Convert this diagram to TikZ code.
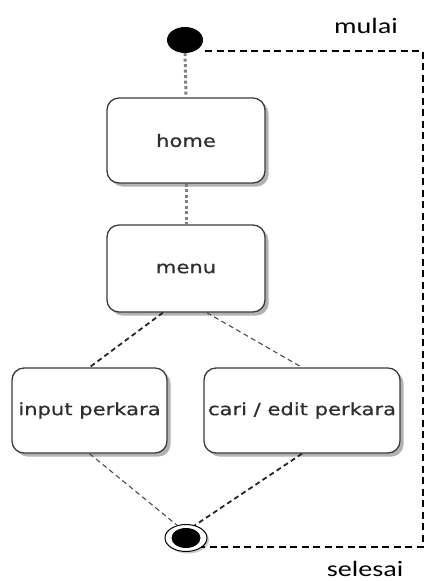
\documentclass[tikz,border=0pt]{standalone}
\usepackage{graphicx}
\usepackage{fontspec}
\newfontfamily\boxfont[FakeBold=0.6]{DejaVu Sans}
\newfontfamily\lblfont{Carlito}
\usetikzlibrary{shapes.geometric,shadows,calc}
\newcommand{\bxt}[1]{\scalebox{1.24}[1]{#1}}
\newcommand{\lbt}[1]{\scalebox{1.28}[1]{#1}}
\definecolor{boxline}{HTML}{3C3C3C}
\definecolor{txtgray}{HTML}{2E2E2E}
\tikzset{
  statebox/.style={draw=boxline, line width=1.3pt, rounded corners=12pt, fill=white,
    drop shadow={shadow xshift=3.5pt, shadow yshift=-3.5pt, opacity=0.3, fill=black},
    font=\boxfont\fontsize{17}{20}\selectfont, text=txtgray, inner sep=0pt},
  dotconn/.style={draw=gray, line width=3pt, dash pattern=on 3pt off 2.5pt},
  darkdash/.style={draw=black!85, line width=1.8pt, dash pattern=on 5pt off 3.5pt},
  lightdash/.style={draw=black!70, line width=1.1pt, dash pattern=on 5pt off 3.5pt},
  frame/.style={draw=black, line width=1.3pt, dash pattern=on 7pt off 4.5pt},
  lbl/.style={font=\lblfont\fontsize{22}{26}\selectfont, text=black, inner sep=0pt, anchor=base}
}
\begin{document}
\begin{tikzpicture}[x=1pt,y=-1pt]
\useasboundingbox[fill=white] (0,0) rectangle (424,581);

% start and end
\node[ellipse, fill=black, minimum width=36pt, minimum height=26pt, inner sep=0pt] (start) at (185,40) {};
\node[ellipse, draw=black, line width=1pt, fill=white, minimum width=42pt, minimum height=27pt, inner sep=0pt,
      drop shadow={shadow xshift=2pt, shadow yshift=-2pt, opacity=0.2, fill=black}] (end) at (186,538) {};
\node[ellipse, fill=black, minimum width=29pt, minimum height=20pt, inner sep=0pt] (endin) at (186,538) {};

% states
\node[statebox, minimum width=158pt, minimum height=85pt] (home) at (186,140.5) {\bxt{home}};
\node[statebox, minimum width=158pt, minimum height=87pt] (menu) at (186,268.5) {\bxt{menu}};
\node[statebox, minimum width=155pt, minimum height=85pt] (input) at (89.5,410.5) {\bxt{input perkara}};
\node[statebox, minimum width=196pt, minimum height=85pt] (cari) at (302,410.5) {\bxt{cari / edit perkara}};

% connectors
\draw[dotconn] (start.south) -- (home.north);
\draw[dotconn] (home.south) -- (menu.north);
\draw[darkdash] ($(menu.south west)!0.355!(menu.south east)$) -- (input.north);
\draw[lightdash] ($(menu.south west)!0.63!(menu.south east)$) -- (cari.north);
\draw[lightdash] (input.south) -- (end.125);
\draw[darkdash] (cari.south) -- (end.55);

% frame line
\coordinate (tr) at (423,51);
\coordinate (br) at (423,547);
\draw[frame] ($(start.east |- tr)+(2,0)$) -- (tr) -- (br) -- (end.-35 |- br);

% labels
\node[lbl] (mulai) at (366,33) {\lbt{mulai}};
\node[lbl] (selesai) at (365,576) {\lbt{selesai}};
\end{tikzpicture}
\end{document}
